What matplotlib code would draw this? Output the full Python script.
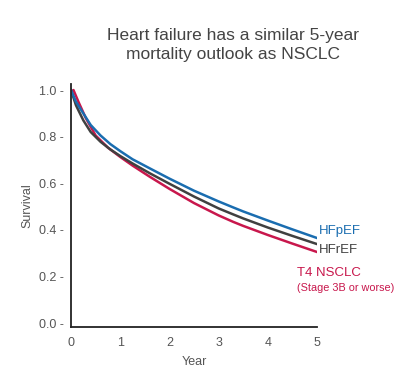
import matplotlib.pyplot as plt

# values
years_hf = [0, 0.1, 0.25, 0.4, 0.6, 0.8, 1.0, 1.25, 1.6, 2.0, 2.5, 3.0, 3.3, 3.5, 4.0, 4.5, 5.0]
hfpef = [1.0, 0.95, 0.90, 0.85, 0.805, 0.768, 0.738, 0.703, 0.664, 0.62, 0.568, 0.522, 0.496, 0.479, 0.44, 0.402, 0.365]
hfref = [1.0, 0.935, 0.87, 0.82, 0.778, 0.745, 0.717, 0.685, 0.643, 0.598, 0.543, 0.492, 0.466, 0.449, 0.41, 0.374, 0.339]

years_nsclc = [0, 0.05, 0.15, 0.3, 0.5, 0.75, 1.0, 1.25, 1.6, 2.0, 2.5, 3.0, 3.3, 3.5, 4.0, 4.5, 5.0]
nsclc = [0.99, 1.0, 0.95, 0.88, 0.805, 0.753, 0.713, 0.676, 0.628, 0.576, 0.515, 0.462, 0.434, 0.417, 0.378, 0.341, 0.305]

x_ticks = [0, 1, 2, 3, 4, 5]
y_ticks = [0.0, 0.2, 0.4, 0.6, 0.8, 1.0]

blue = "#1a6db0"
grey = "#404040"
red = "#c8174c"
text_grey = "#555555"

plt.rcParams['font.family'] = ['Liberation Sans', 'DejaVu Sans']

fig = plt.figure(figsize=(4.19, 3.75), dpi=100)
ax = fig.add_axes([0.1695, 0.128, 0.587, 0.648])

ax.plot(years_nsclc, nsclc, color=red, lw=1.8)
ax.plot(years_hf, hfref, color=grey, lw=1.8)
ax.plot(years_hf, hfpef, color=blue, lw=1.8)

ax.set_xlim(0, 5)
ax.set_ylim(-0.017, 1.026)
ax.set_xticks(x_ticks)
ax.set_xticklabels([str(t) for t in x_ticks])
ax.set_yticks(y_ticks)
ax.set_yticklabels([f"{t:.1f} -" for t in y_ticks])
ax.tick_params(length=0, labelsize=9, colors=text_grey)
ax.tick_params(axis='x', pad=7)
ax.tick_params(axis='y', pad=5)
for s in ['top', 'right']:
    ax.spines[s].set_visible(False)
for s in ['left', 'bottom']:
    ax.spines[s].set_color("#222222")
    ax.spines[s].set_linewidth(1.3)

ax.set_xlabel("Year", fontsize=9, color=text_grey, labelpad=5)
ax.set_ylabel("Survival", fontsize=9, color=text_grey, labelpad=4)

ax.text(5.04, 0.395, "HFpEF", color=blue, fontsize=9.5, va='center')
ax.text(5.04, 0.315, "HFrEF", color=grey, fontsize=9.5, va='center')
ax.text(4.6, 0.215, "T4 NSCLC", color=red, fontsize=9.5, va='center')
ax.text(4.6, 0.15, "(Stage 3B or worse)", color=red, fontsize=7.8, va='center')

fig.text(0.556, 0.88, "Heart failure has a similar 5-year\nmortality outlook as NSCLC",
         ha='center', va='center', fontsize=12.5, color="#444444", linespacing=1.35)

fig.savefig("out.png", dpi=100)
